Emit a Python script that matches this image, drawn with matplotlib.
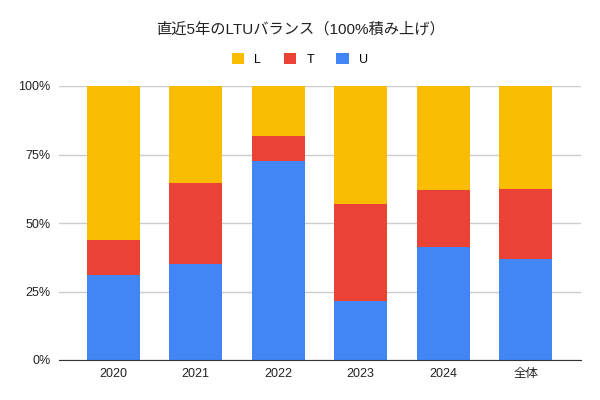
import matplotlib
matplotlib.use("Agg")
import matplotlib.pyplot as plt
import numpy as np

# 直近5年のLTUバランス（割合, 0-100）
categories = ["2020", "2021", "2022", "2023", "2024", "全体"]
u_share = [31.0, 35.1, 72.6, 21.5, 41.2, 36.9]
t_share = [12.9, 29.6, 9.3, 35.5, 21.0, 25.5]
l_share = [56.1, 35.3, 18.1, 43.0, 37.8, 37.6]

colors = {"L": "#FBBC04", "T": "#EA4335", "U": "#4285F4"}

plt.rcParams["font.family"] = ["Liberation Sans", "Noto Sans CJK JP", "DejaVu Sans"]

fig = plt.figure(figsize=(6, 4), dpi=100)
ax = fig.add_axes([0.098, 0.1, 0.87, 0.685])

x = np.arange(len(categories))
u = np.array(u_share) / 100
t = np.array(t_share) / 100
l = np.array(l_share) / 100
w = 0.643

bu = ax.bar(x, u, w, color=colors["U"], label="U", zorder=2)
bt = ax.bar(x, t, w, bottom=u, color=colors["T"], label="T", zorder=2)
bl = ax.bar(x, l, w, bottom=u + t, color=colors["L"], label="L", zorder=2)

ax.set_xlim(-0.66, len(categories) - 1 + 0.67)
ax.set_ylim(0, 1)
ax.set_yticks([0, 0.25, 0.5, 0.75, 1.0])
ax.set_yticklabels(["0%", "25%", "50%", "75%", "100%"])
ax.set_xticks(x)
ax.set_xticklabels(categories)
ax.tick_params(axis="both", length=0, labelsize=9, colors="#222222")
ax.tick_params(axis="y", pad=6)
ax.tick_params(axis="x", pad=6)
ax.grid(axis="y", color="#cccccc", linewidth=1, zorder=0)
for side in ("top", "right", "left"):
    ax.spines[side].set_visible(False)
ax.spines["bottom"].set_color("#333333")
ax.spines["bottom"].set_zorder(3)

fig.text(0.5, 0.927, "直近5年のLTUバランス（100%積み上げ）", ha="center", va="center",
         fontsize=11, color="#222222")

fig.legend([bl, bt, bu], ["L", "T", "U"], loc="center", bbox_to_anchor=(0.5, 0.852),
           ncol=3, frameon=False, fontsize=9, handlelength=1.0, handleheight=1.0,
           handletextpad=0.8, columnspacing=1.8)

fig.savefig("out.png", dpi=100)
